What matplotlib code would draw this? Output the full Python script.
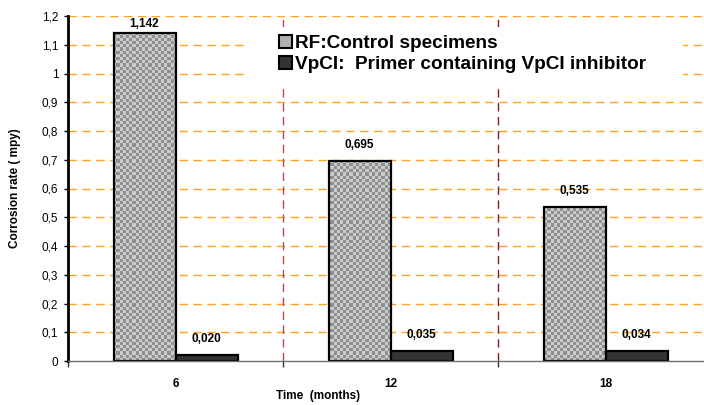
import numpy as np
import matplotlib
matplotlib.use("Agg")
import matplotlib.pyplot as plt
from matplotlib.patches import Patch, Rectangle
from matplotlib.ticker import FuncFormatter, FixedLocator

plt.rcParams['font.family'] = ['Liberation Sans', 'DejaVu Sans']

categories = ['6', '12', '18']
rf_values = [1.142, 0.695, 0.535]
vpci_values = [0.020, 0.035, 0.034]
series_names = ['RF:Control specimens', 'VpCI:  Primer containing VpCI inhibitor']
x_label = 'Time  (months)'
y_label = 'Corrosion rate ( mpy)'

W, H, DPI = 704, 405, 100
fig = plt.figure(figsize=(W / DPI, H / DPI), dpi=DPI)
# axes in pixel coords: left 68, right 713 (clipped by figure), top 16, bottom 361
ax = fig.add_axes([68 / W, (H - 361) / H, 645 / W, 345 / H])

n = len(categories)
centers = np.arange(n) + 0.5
bw = 62 / 215

ax.set_xlim(0, n)
ax.set_ylim(0, 1.2)

# grid
yt = np.round(np.arange(0, 1.21, 0.1), 1)
for v in yt[1:]:
    ax.axhline(v, color='#FFA31A', lw=1.0, ls=(0, (6, 4)), zorder=0.5)

# vertical dividers
div_colors = ['#B94A4A', '#8B1A1A']
for i in range(1, n):
    ax.axvline(i, color=div_colors[(i - 1) % 2], lw=1.0, ls=(0, (6, 4)), zorder=0.6)

# RF bars with checkerboard
rf_bars = ax.bar(centers - bw / 2, rf_values, width=bw, color='#b4b4b4', zorder=3, linewidth=0)
ny, nx = 108, 202
yy, xx = np.mgrid[0:ny, 0:nx]
checker = ((xx + yy) % 2).astype(float)
cmap = matplotlib.colors.ListedColormap(['#CBCBCB', '#8F8F8F'])
for b in rf_bars:
    im = ax.imshow(checker, cmap=cmap, extent=(0, n, 0, 1.2), aspect='auto',
                   interpolation='nearest', zorder=3.2, origin='lower')
    im.set_clip_path(b)
ax.bar(centers - bw / 2, rf_values, width=bw, fill=False, edgecolor='black', lw=1.6, zorder=4)

# VpCI bars
ax.bar(centers + bw / 2, vpci_values, width=bw, color='#343434', edgecolor='black', lw=1.6, zorder=4)

# value labels
def fmt(v):
    return f'{v:.3f}'.replace('.', ',')

for xs, vals in ((centers - bw / 2, rf_values), (centers + bw / 2, vpci_values)):
    for x, v in zip(xs, vals):
        off = 16 if v < 1.1 else 9
        ax.annotate(fmt(v), (x, v), xytext=(0, off * 72 / DPI), textcoords='offset points',
                    ha='center', va='center', fontsize=8.5, fontweight='bold', zorder=6)

# spines
for s in ('top', 'right'):
    ax.spines[s].set_visible(False)
ax.spines['left'].set_linewidth(2)
ax.spines['left'].set_color('black')
ax.spines['bottom'].set_linewidth(1)
ax.spines['bottom'].set_color('#707070')
ax.spines['left'].set_zorder(5)
ax.spines['bottom'].set_zorder(5)

# y ticks
ax.yaxis.set_major_locator(FixedLocator(yt))
ax.yaxis.set_major_formatter(FuncFormatter(lambda v, p: ('%g' % round(v, 1)).replace('.', ',')))
ax.tick_params(axis='y', direction='out', length=3, width=1, labelsize=8.5, pad=4, colors='black')

# x ticks
ax.xaxis.set_major_locator(FixedLocator(np.arange(0, n + 1)))
ax.xaxis.set_major_formatter(FuncFormatter(lambda v, p: ''))
ax.xaxis.set_minor_locator(FixedLocator(centers))
ax.set_xticklabels(categories, minor=True)
ax.tick_params(axis='x', which='major', direction='out', length=4, width=1, color='#333333')
ax.tick_params(axis='x', which='minor', length=0, pad=12, labelsize=8.5)
for lbl in ax.get_xticklabels(minor=True):
    lbl.set_fontweight('bold')

fig.text(15 / W, 1 - 188 / H, y_label, rotation=90, ha='center', va='center',
         fontsize=8.5, fontweight='bold')
fig.text(318 / W, 1 - 396 / H, x_label, ha='center', va='center',
         fontsize=8.5, fontweight='bold')

# legend white background
ax.add_patch(Rectangle(((245 - 68) / 215, (361 - 88) / 287.5), (683 - 245) / 215,
                       (88 - 27) / 287.5, facecolor='white', edgecolor='none', zorder=1))
handles = [Patch(facecolor='#b0b0b0', edgecolor='black', lw=1.5),
           Patch(facecolor='#333333', edgecolor='black', lw=1.5)]
leg = ax.legend(handles, series_names, loc='upper left',
                bbox_to_anchor=(279 / W, 1 - 35 / H), bbox_transform=fig.transFigure,
                frameon=False, prop={'weight': 'bold', 'size': 13.7},
                handlelength=0.68, handleheight=0.68, handletextpad=0.17,
                labelspacing=0.21, borderpad=0, borderaxespad=0)
leg.set_zorder(7)

fig.savefig('out.png', dpi=DPI)
